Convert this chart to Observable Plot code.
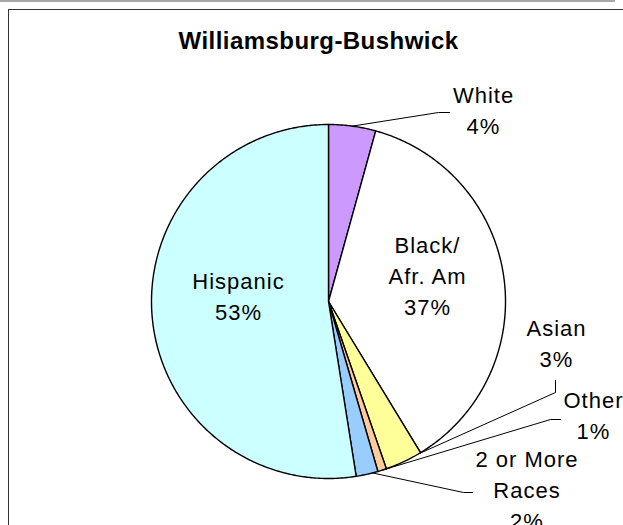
<!DOCTYPE html>
<html><head><meta charset="utf-8">
<script src="https://cdn.jsdelivr.net/npm/d3@7"></script>
<script src="https://cdn.jsdelivr.net/npm/@observablehq/plot@0.6"></script>
<style>
html,body{margin:0;padding:0;background:#fff;overflow:hidden;}
#wrap{position:relative;width:623px;height:525px;overflow:hidden;background:#fff;}
#chart{position:absolute;left:0;top:0;}
#frame{position:absolute;left:8px;top:9px;width:700px;height:600px;border:1.5px solid #333;box-sizing:border-box;pointer-events:none;}
#topline{position:absolute;left:0;top:0;width:615px;height:2px;background:#a8a8a8;}
</style></head><body>
<div id="wrap"><div id="topline"></div><div id="chart"></div><div id="frame"></div></div>
<script>
// ---- data ----
const title = "Williamsburg-Bushwick";
const keys = ["White", "Black", "Asian", "Other", "Two", "Hispanic"];
const categoryLabels = ["White", "Black/\nAfr. Am", "Asian", "Other", "2 or More\nRaces", "Hispanic"];
const values = [4.3, 37.0, 3.4, 0.8, 2.0, 52.5];
const colors = ["#CC99FF", "#FFFFFF", "#FFFF99", "#FFCC99", "#99CCFF", "#CCFFFF"];

// ---- layout ----
const W = 623, H = 525, CX = 328, CY = 301, R = 177;
const FONT = "'Liberation Sans', Arial, Helvetica, sans-serif";
const FS = 22, LH = 31 / 22;
// first-baseline anchor of each label, px offset from pie centre
const labelLayout = {
  White: [155, -198], Black: [99, -48], Asian: [228, 35],
  Other: [265, 107], Two: [198.5, 166], Hispanic: [-90, -12]
};
// leader lines: attach fraction within slice, elbow and end offsets (px from centre)
const leaderLayout = {
  White: {at: 0.5, elbow: [110, -189], end: [121, -189]},
  Asian: {at: 0.06, elbow: [227, 91], end: [227, 79]},
  Other: {at: 0.5, elbow: [222, 118], end: [232, 118]},
  Two: {at: 0.25, elbow: [135, 191], end: [144, 191]}
};

// ---- build geometry in unit pie coordinates ----
const total = d3.sum(values);
let acc = 0;
const slices = keys.map((k, i) => {
  const a0 = acc / total * 2 * Math.PI; acc += values[i];
  const a1 = acc / total * 2 * Math.PI;
  return {key: k, a0, a1, value: values[i], label: categoryLabels[i]};
});
const piePts = slices.flatMap(s => {
  const pts = [{key: s.key, x: 0, y: 0}];
  const n = Math.max(2, Math.ceil((s.a1 - s.a0) / (Math.PI / 360)));
  for (let j = 0; j <= n; j++) {
    const a = s.a0 + (s.a1 - s.a0) * j / n;
    pts.push({key: s.key, x: Math.sin(a), y: Math.cos(a)});
  }
  pts.push({key: s.key, x: 0, y: 0});
  return pts;
});
const leaderPts = slices.filter(s => leaderLayout[s.key]).flatMap(s => {
  const L = leaderLayout[s.key];
  const a = s.a0 + (s.a1 - s.a0) * L.at;
  return [
    {key: s.key, x: Math.sin(a), y: Math.cos(a)},
    {key: s.key, x: L.elbow[0] / R, y: -L.elbow[1] / R},
    {key: s.key, x: L.end[0] / R, y: -L.end[1] / R}
  ];
});
const labels = slices.map(s => {
  const p = labelLayout[s.key];
  return {
    key: s.key,
    text: s.label + "\n" + Math.round(s.value) + "%",
    x: p[0] / R,
    y: -(p[1] - 0.71 * LH * FS) / R
  };
});

const chart = Plot.plot({
  width: W, height: H, margin: 0,
  x: {domain: [-1, 1], range: [CX - R, CX + R], axis: null},
  y: {domain: [-1, 1], range: [CY + R, CY - R], axis: null},
  color: {domain: keys, range: colors},
  style: {fontFamily: FONT, background: "transparent", overflow: "visible"},
  marks: [
    Plot.line(piePts, {x: "x", y: "y", z: "key", fill: "key", stroke: "#000", strokeWidth: 1.4, strokeLinejoin: "round", curve: "linear"}),
    Plot.line(leaderPts, {x: "x", y: "y", z: "key", stroke: "#000", strokeWidth: 1}),
    Plot.text(labels, {x: "x", y: "y", text: "text", fontSize: FS, lineHeight: LH, lineAnchor: "top", textAnchor: "middle", fill: "#000"}),
    Plot.text([title], {frameAnchor: "top", dx: 6.5, dy: 48 - 0.71 * 24, fontSize: 24, fontWeight: "bold", lineHeight: 1, lineAnchor: "top", textAnchor: "middle", fill: "#000"})
  ]
});
d3.select(chart).selectAll("text").style("letter-spacing", "1px");
d3.select(chart).selectAll("text").filter(function(){ return this.textContent === title; }).style("letter-spacing", "0.45px");
document.getElementById("chart").appendChild(chart);
</script>
</body></html>
